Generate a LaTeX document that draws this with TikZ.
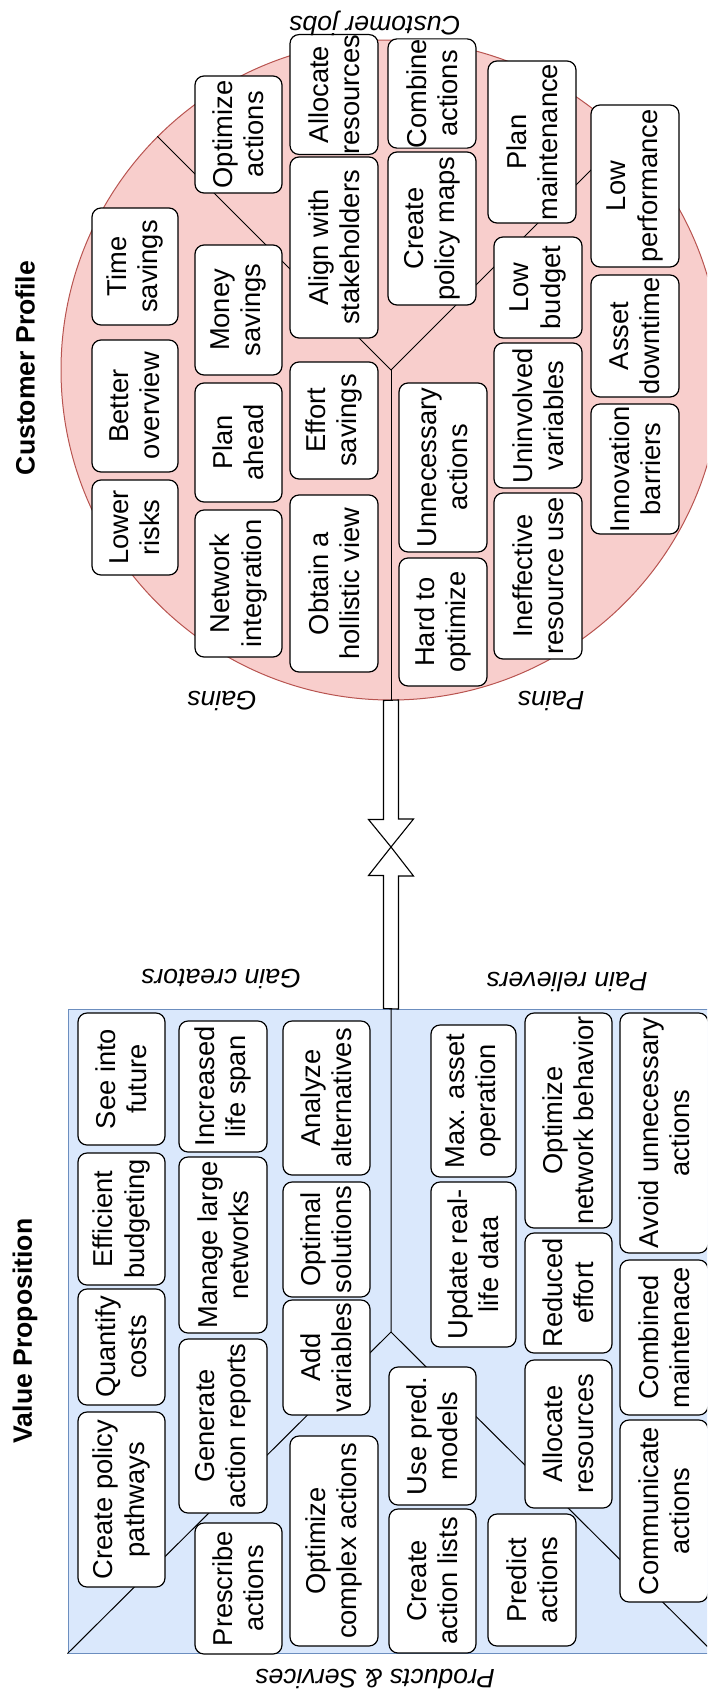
\documentclass[tikz,border=0pt]{standalone}
\usepackage{fontspec}
\setmainfont{Liberation Sans}
\usetikzlibrary{calc}
\definecolor{cpfill}{HTML}{F8CECC}
\definecolor{cpline}{HTML}{B85450}
\definecolor{vpfill}{HTML}{DAE8FC}
\definecolor{vpline}{HTML}{6C8EBF}
\tikzset{
  item/.style={draw=black, fill=white, line width=1.2pt, rounded corners=9pt,
    rotate=90, align=center, inner sep=0pt,
    font=\fontsize{27.3}{31.3}\selectfont},
  seclabel/.style={font=\fontsize{26.6}{30.6}\selectfont\itshape, rotate=180, inner sep=0pt},
  bigtitle/.style={font=\fontsize{26.6}{30.6}\selectfont\bfseries, rotate=90, inner sep=0pt},
  divider/.style={draw=black, line width=1pt},
  blockarrow/.style={draw=black, fill=white, line width=1.1pt, line join=miter},
}
% \itembox{name}{x1}{y1}{x2}{y2}{text}: a rounded box with text running upwards
\newcommand\itembox[6]{%
  \node[item, minimum width={(#5)-(#3)}, minimum height={(#4)-(#2)}]
    (#1) at ({((#2)+(#4))/2},{((#3)+(#5))/2}) {#6};}
\begin{document}
\begin{tikzpicture}[x=1pt,y=-1pt]
\useasboundingbox (0,0) rectangle (707,1695);
\clip (0,0) rectangle (707,1695);

% ---------- customer profile ----------
\node[circle, draw=cpline, fill=cpfill, line width=1pt, minimum size=660pt, inner sep=0pt]
  (cp) at (391,370) {};
\draw[divider] (cp.center) -- (cp.south);
\draw[divider] (cp.center) -- (cp.north west);
\draw[divider] (cp.center) -- (cp.north east);

\itembox{ts}{92}{208}{178}{325}{Time\\savings}
\itembox{bo}{92}{340}{178}{472}{Better\\overview}
\itembox{lr}{92}{480}{178}{575}{Lower\\risks}
\itembox{oa}{195}{76}{282}{193}{Optimize\\actions}
\itembox{ms}{195}{245}{282}{375}{Money\\savings}
\itembox{pa}{195}{383}{282}{502}{Plan\\ahead}
\itembox{ni}{195}{510}{282}{657}{Network\\integration}
\itembox{ar}{290}{36}{378}{153}{Allocate\\resources}
\itembox{as}{290}{157}{378}{338}{Align with\\stakeholders}
\itembox{es}{290}{362}{378}{479}{Effort\\savings}
\itembox{oh}{290}{495}{378}{672}{Obtain a\\hollistic view}
\itembox{ca}{388}{40}{476}{147}{Combine\\actions}
\itembox{cm}{388}{152}{476}{305}{Create\\policy maps}
\itembox{ua}{399}{383}{487}{552}{Unnecessary\\actions}
\itembox{ho}{399}{558}{487}{686}{Hard to\\optimize}
\itembox{pm}{488}{61}{576}{223}{Plan\\maintenance}
\itembox{lb}{494}{237}{582}{338}{Low\\budget}
\itembox{uv}{494}{343}{582}{488}{Uninvolved\\variables}
\itembox{ir}{494}{493}{582}{659}{Ineffective\\resource use}
\itembox{lp}{591}{105}{679}{267}{Low\\performance}
\itembox{ad}{591}{275}{679}{397}{Asset\\downtime}
\itembox{ib}{591}{404}{679}{534}{Innovation\\barriers}

\node[seclabel] (jobs) at (375,23) {Customer jobs};
\node[seclabel] (gains) at (222,701) {Gains};
\node[seclabel] (pains) at (551,701) {Pains};
\node[bigtitle] (cptitle) at (25,368) {Customer Profile};

% ---------- value proposition ----------
\node[rectangle, draw=vpline, fill=vpfill, line width=1pt, minimum width=646pt,
  minimum height=644pt, inner sep=0pt] (vp) at (391,1331) {};
\coordinate (vj) at (391,1332);
\draw[divider] (vp.north) -- (vj) -- (vp.south west);
\draw[divider] (vj) -- (vp.south east);

\itembox{sf}{78}{1013}{165}{1145}{See into\\future}
\itembox{eb}{78}{1153}{165}{1285}{Efficient\\budgeting}
\itembox{qc}{78}{1289}{165}{1405}{Quantify\\costs}
\itembox{cpp}{78}{1412}{165}{1587}{Create policy\\pathways}
\itembox{il}{179}{1021}{267}{1152}{Increased\\life span}
\itembox{ml}{179}{1157}{267}{1333}{Manage large\\networks}
\itembox{ga}{179}{1339}{267}{1513}{Generate\\action reports}
\itembox{pr}{195}{1523}{282}{1654}{Prescribe\\actions}
\itembox{aa}{283}{1021}{370}{1175}{Analyze\\alternatives}
\itembox{os}{283}{1182}{370}{1297}{Optimal\\solutions}
\itembox{av}{283}{1300}{370}{1415}{Add\\variables}
\itembox{oc}{290}{1436}{378}{1646}{Optimize\\complex actions}
\itembox{up}{389}{1367}{476}{1505}{Use pred.\\models}
\itembox{cl}{389}{1509}{476}{1653}{Create\\action lists}
\itembox{mx}{431}{1025}{516}{1177}{Max. asset\\operation}
\itembox{ur}{431}{1182}{516}{1347}{Update real-\\life data}
\itembox{on}{525}{1013}{612}{1228}{Optimize\\network behavior}
\itembox{re}{525}{1233}{612}{1353}{Reduced\\effort}
\itembox{arr}{525}{1360}{612}{1508}{Allocate\\resources}
\itembox{pd}{488}{1514}{576}{1646}{Predict\\actions}
\itembox{au}{620}{1013}{708}{1253}{Avoid unnecessary\\actions}
\itembox{cmn}{620}{1260}{708}{1415}{Combined\\maintenace}
\itembox{cc}{620}{1420}{708}{1602}{Communicate\\actions}

\node[seclabel] (gc) at (221,979) {Gain creators};
\node[seclabel] (prl) at (567,982) {Pain relievers};
\node[seclabel] (ps) at (375,1679) {Products \& Services};
\node[bigtitle] (vptitle) at (25,1331) {Value Proposition};

% ---------- fit arrows meeting tip to tip ----------
\coordinate (tip) at (391,847);
\draw[blockarrow] (cp.south) ++(-7.5,0) -- ++(0,119) -- ++(-15,0) -- (tip)
  -- ++(22.5,-28) -- ++(-15,0) -- ++(0,-119) -- cycle;
\draw[blockarrow] (vp.north) ++(-7.5,0) -- ++(0,-133) -- ++(-15,0) -- (tip)
  -- ++(22.5,29) -- ++(-15,0) -- ++(0,133) -- cycle;
\end{tikzpicture}
\end{document}
